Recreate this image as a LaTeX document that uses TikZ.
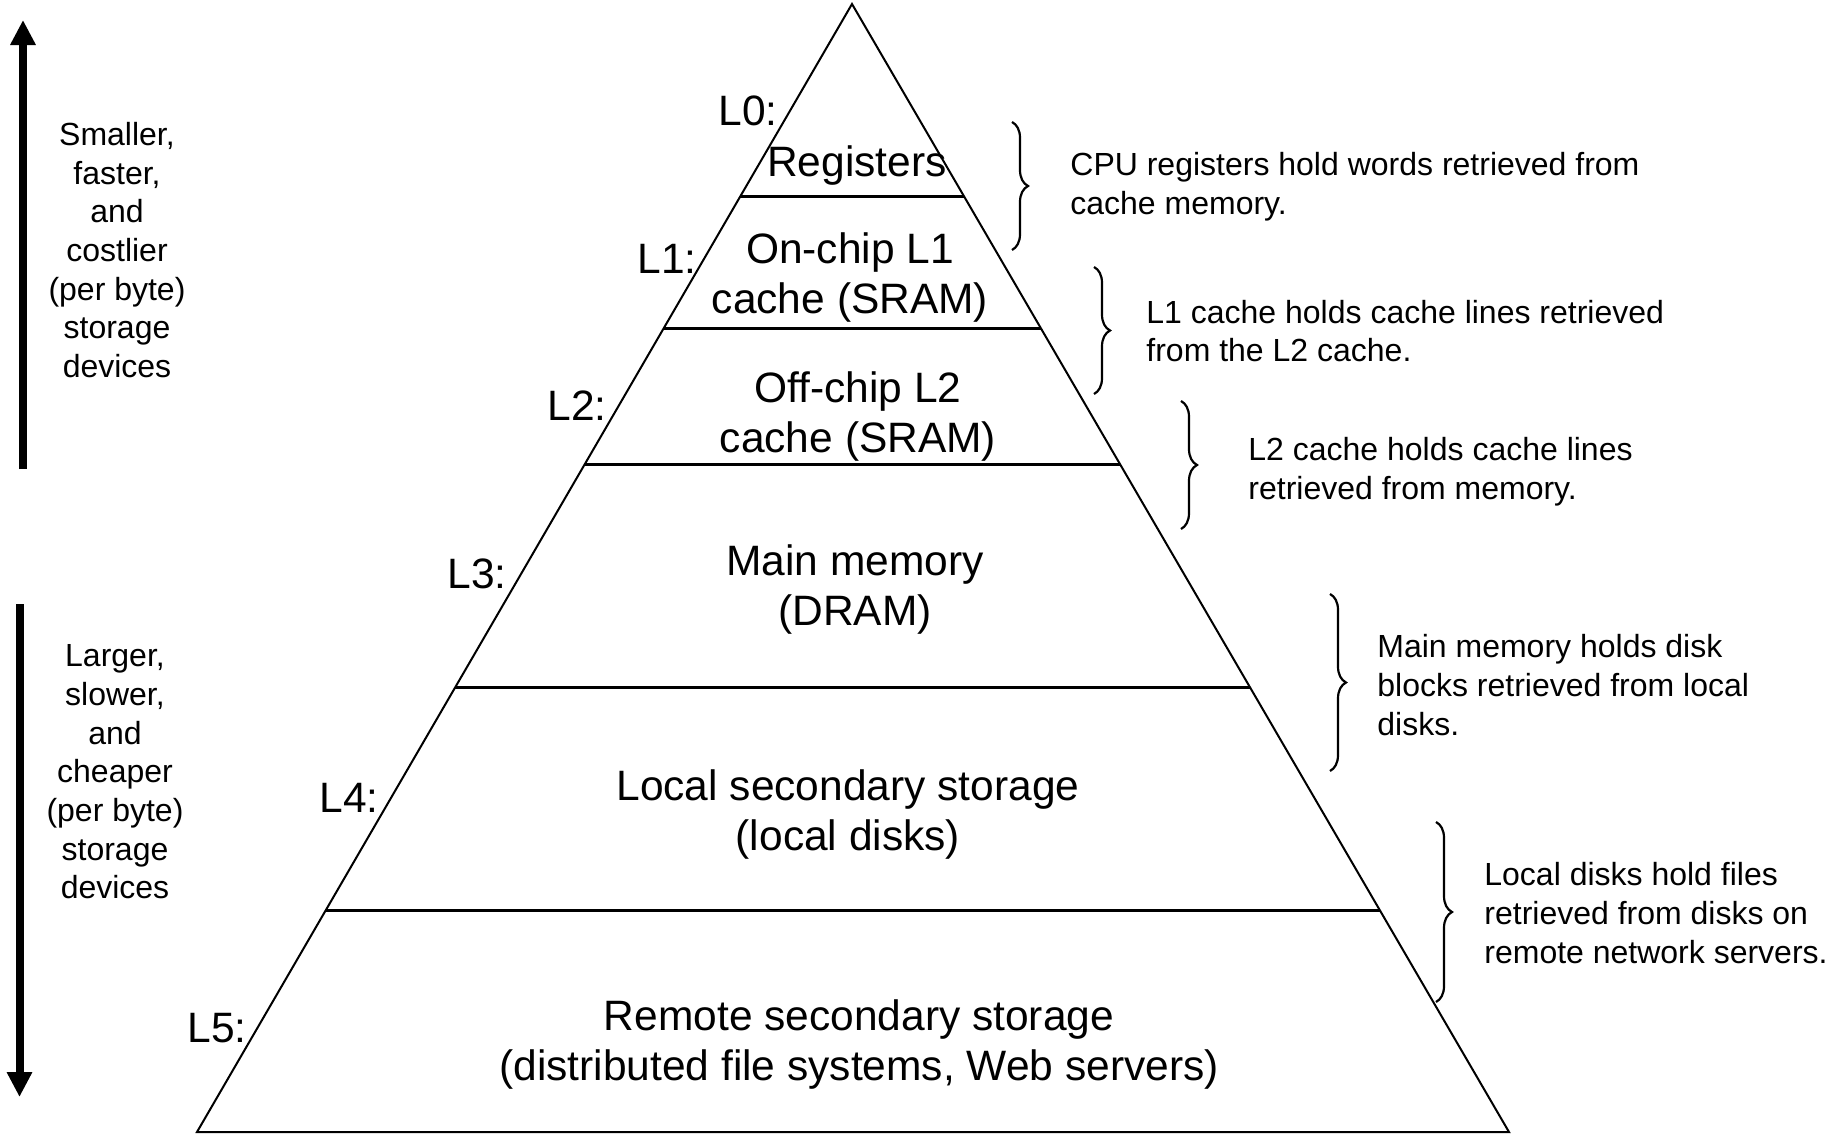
\documentclass[tikz,border=0pt]{standalone}
\usepackage{fontspec}
\setmainfont{Liberation Sans}
\usetikzlibrary{arrows.meta,decorations.pathreplacing,calc}
\begin{document}
\begin{tikzpicture}[x=0.5pt,y=-0.5pt,
  big/.style={font=\fontsize{21.25}{25}\selectfont, align=center, inner sep=0pt},
  lvl/.style={font=\fontsize{21.25}{25}\selectfont, inner sep=0pt},
  note/.style={font=\fontsize{16}{19.35}\selectfont, align=left, anchor=west, inner sep=0pt},
  side/.style={font=\fontsize{16}{19.35}\selectfont, align=center, inner sep=0pt},
  tier/.style={line width=1.5pt},
  pyr/.style={line width=1pt, line join=miter},
  brc/.style={decorate, decoration={brace, amplitude=8pt}, line width=1.1pt},
  bigarrow/.style={line width=4pt, -{Triangle[width=12pt,length=12.5pt]}}
]
\useasboundingbox (0,0) rectangle (1838,1135);

% pyramid
\coordinate (apex) at (852,4);
\coordinate (bl) at (197,1132);
\coordinate (br) at (1509,1132);
\draw[pyr] (apex) -- (bl) -- (br) -- cycle;
\foreach \t in {0.1711,0.2881,0.4078,0.6055,0.8032}
  \draw[tier] ($(apex)!\t!(bl)$) -- ($(apex)!\t!(br)$);

% level texts
\node[lvl] (l0) at (748,111) {L0:};
\node[big] (reg) at (857,166) {Registers};
\node[lvl] (l1) at (667,259) {L1:};
\node[big] (c1) at (850,277) {On-chip L1\\cache (SRAM)};
\node[lvl] (l2) at (577,406) {L2:};
\node[big] (c2) at (858,416) {Off-chip L2\\cache (SRAM)};
\node[lvl] (l3) at (477,574) {L3:};
\node[big] (mm) at (855,589.5) {Main memory\\(DRAM)};
\node[lvl] (l4) at (349,798) {L4:};
\node[big] (ld) at (848,814) {Local secondary storage\\(local disks)};
\node[lvl] (l5) at (217,1028) {L5:};
\node[big] (rs) at (859,1045) {Remote secondary storage\\(distributed file systems, Web servers)};

% braces
\draw[brc] (1012,122) -- (1012,250);
\draw[brc] (1094,267) -- (1094,394);
\draw[brc] (1181,401) -- (1181,529);
\draw[brc] (1330,594) -- (1330,771);
\draw[brc] (1436,822) -- (1436,1002);

% notes
\node[note] (n0) at (1070,187) {CPU registers hold words retrieved from\\cache memory.};
\node[note] (n1) at (1146,331) {L1 cache holds cache lines retrieved\\from the L2 cache.};
\node[note] (n2) at (1248,472) {L2 cache holds cache lines\\retrieved from memory.};
\node[note] (n3) at (1377,685) {Main memory holds disk\\blocks retrieved from local\\disks.};
\node[note] (n4) at (1484,913) {Local disks hold files\\retrieved from disks on\\remote network servers.};

% left arrows and texts
\coordinate (upbot) at (23,469);
\coordinate (uptop) at (23,20);
\draw[bigarrow] (upbot) -- (uptop);
\coordinate (dntop) at (19.5,604);
\coordinate (dnbot) at (19.5,1097);
\draw[bigarrow] (dntop) -- (dnbot);
\node[side] (fast) at (117,250) {Smaller,\\faster,\\and\\costlier\\(per byte)\\storage\\devices};
\node[side] (slow) at (115,772) {Larger,\\slower,\\and\\cheaper\\(per byte)\\storage\\devices};
\end{tikzpicture}
\end{document}
